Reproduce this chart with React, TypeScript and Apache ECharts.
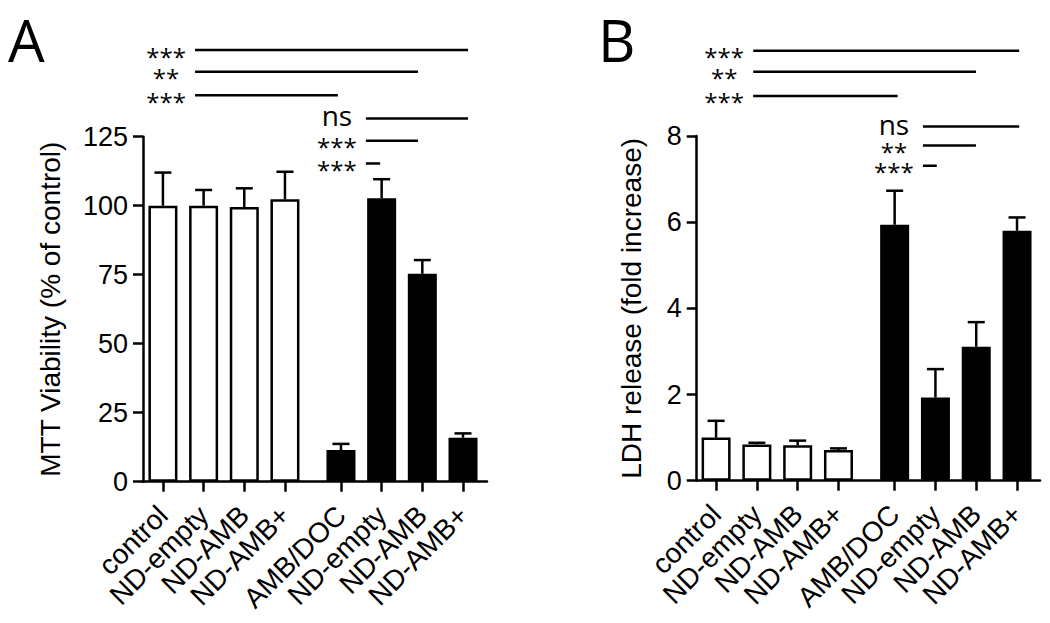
import React, { useEffect, useRef } from "react";
import * as echarts from "echarts";

// ---------- data ----------
const categories = ["control", "ND-empty", "ND-AMB", "ND-AMB+", "AMB/DOC", "ND-empty", "ND-AMB", "ND-AMB+"];
const viabilityMean = [100, 100, 99.5, 102.3, 11.5, 102.7, 75.3, 15.9];
const viabilityUpper = [112, 105.7, 106.3, 112.3, 13.7, 109.6, 80.3, 17.5];
const ldhMean = [1.0, 0.84, 0.82, 0.71, 5.94, 1.93, 3.11, 5.8];
const ldhUpper = [1.39, 0.88, 0.93, 0.75, 6.73, 2.59, 3.68, 6.11];
const viabilityTicks = [0, 25, 50, 75, 100, 125];
const ldhTicks = [0, 2, 4, 6, 8];

// significance brackets: label, from (category units), to, level (y units)
const sigLabelsA = ["***", "**", "***", "ns", "***", "***"];
const sigFromA = [0.79, 0.79, 0.79, 4.99, 4.99, 4.99];
const sigToA = [7.5, 6.27, 4.3, 7.5, 6.27, 5.34];
const sigLevelA = [156.4, 148.5, 140.0, 131.6, 123.5, 115.3];

const sigLabelsB = ["***", "**", "***", "ns", "**", "***"];
const sigFromB = [0.91, 0.91, 0.91, 5.07, 5.07, 5.07];
const sigToB = [7.43, 6.37, 4.45, 7.43, 6.37, 5.41];
const sigLevelB = [9.98, 9.49, 8.93, 8.22, 7.78, 7.31];

// ---------- layout helpers ----------
const GROUP_GAP = 0.377;
const pos = (i: number) => i + (i >= 4 ? GROUP_GAP : 0);
const positions = categories.map((_, i) => pos(i));
const FONT = "'Liberation Sans', Arial, sans-serif";
const ANN_FONT = "'Open Sans', 'Noto Sans', sans-serif";
const LW = 2.5;

function labelFor(v: number) {
  const idx = positions.findIndex((p) => Math.abs(p - v) < 1e-6);
  return idx >= 0 ? categories[idx] : "";
}

function panel(gridIndex: number, means: number[], uppers: number[], labels: string[], from: number[], to: number[], level: number[]) {
  const bars = {
    type: "bar",
    xAxisIndex: gridIndex,
    yAxisIndex: gridIndex,
    barWidth: 29,
    data: means.map((m, i) => ({
      value: [positions[i], m],
      itemStyle: { color: i >= 4 ? "#000" : "#fff", borderColor: "#000", borderWidth: LW },
    })),
    z: 2,
  };
  const errors = {
    type: "custom",
    xAxisIndex: gridIndex,
    yAxisIndex: gridIndex,
    clip: false,
    z: 3,
    encode: { x: 0, y: [1, 2] },
    data: means.map((m, i) => [positions[i], m, uppers[i]]),
    renderItem: (params: any, api: any) => {
      const x = api.value(0);
      const pm = api.coord([x, api.value(1)]);
      const pu = api.coord([x, api.value(2)]);
      const st = { stroke: "#000", lineWidth: LW };
      return {
        type: "group",
        children: [
          { type: "line", shape: { x1: pm[0], y1: pm[1], x2: pu[0], y2: pu[1] }, style: st },
          { type: "line", shape: { x1: pu[0] - 8.5, y1: pu[1], x2: pu[0] + 8.5, y2: pu[1] }, style: st },
        ],
      };
    },
  };
  const sig = {
    type: "custom",
    xAxisIndex: gridIndex,
    yAxisIndex: gridIndex,
    clip: false,
    z: 3,
    encode: { x: [0, 1], y: 2 },
    data: from.map((f, i) => [f, to[i], level[i]]),
    renderItem: (params: any, api: any) => {
      const p1 = api.coord([api.value(0), api.value(2)]);
      const p2 = api.coord([api.value(1), api.value(2)]);
      const txt = labels[params.dataIndex];
      const isNs = txt === "ns";
      return {
        type: "group",
        children: [
          { type: "line", shape: { x1: p1[0], y1: p1[1], x2: p2[0], y2: p2[1] }, style: { stroke: "#000", lineWidth: LW } },
          {
            type: "text",
            x: p1[0] - 29,
            y: p1[1] + (isNs ? -3 : 6),
            style: {
              text: txt,
              fill: "#000",
              font: isNs ? `28px ${ANN_FONT}` : `24px ${ANN_FONT}`,
              lineHeight: 18,
              align: "center",
              verticalAlign: "middle",
            },
          },
        ],
      };
    },
  };
  return [bars, errors, sig];
}

function makeX(gridIndex: number, min: number, max: number) {
  return {
    type: "value",
    gridIndex,
    min,
    max,
    splitLine: { show: false },
    axisLine: { show: true, onZero: false, lineStyle: { color: "#000", width: LW } },
    axisTick: { show: true, length: 10, lineStyle: { color: "#000", width: LW }, customValues: positions },
    axisLabel: {
      show: true,
      customValues: positions,
      formatter: (v: number) => labelFor(v),
      rotate: 45,
      margin: 29,
      color: "#000",
      fontSize: 28,
      fontFamily: FONT,
    },
  };
}

function makeY(gridIndex: number, ticks: number[], name: string, nameGap: number) {
  return {
    type: "value",
    gridIndex,
    min: ticks[0],
    max: ticks[ticks.length - 1],
    interval: ticks[1] - ticks[0],
    name,
    nameLocation: "middle",
    nameRotate: 90,
    nameGap,
    nameTextStyle: { color: "#000", fontSize: 28, fontFamily: FONT },
    splitLine: { show: false },
    axisLine: { show: true, onZero: false, lineStyle: { color: "#000", width: LW } },
    axisTick: { show: true, length: 10, lineStyle: { color: "#000", width: LW } },
    axisLabel: { color: "#000", fontSize: 27, fontFamily: FONT, margin: 15 },
  };
}

export default function App() {
  const ref = useRef<HTMLDivElement>(null);
  useEffect(() => {
    if (!ref.current) return;
    const chart = echarts.init(ref.current, undefined, { renderer: "svg" });
    chart.setOption({
      animation: false,
      backgroundColor: "#fff",
      grid: [
        { left: 143, top: 136.7, width: 344, height: 345 },
        { left: 696.7, top: 136, width: 343.3, height: 344.7 },
      ],
      xAxis: [makeX(0, -0.49, 7.967), makeX(1, -0.475, 7.94)],
      yAxis: [
        makeY(0, viabilityTicks, "MTT Viability (% of control)", 79),
        makeY(1, ldhTicks, "LDH release (fold increase)", 51),
      ],
      graphic: [
        { type: "text", left: 8, top: 10, style: { text: "A", fill: "#000", font: `58px ${ANN_FONT}` } },
        { type: "text", left: 598, top: 10, style: { text: "B", fill: "#000", font: `58px ${ANN_FONT}` } },
      ],
      series: [
        ...panel(0, viabilityMean, viabilityUpper, sigLabelsA, sigFromA, sigToA, sigLevelA),
        ...panel(1, ldhMean, ldhUpper, sigLabelsB, sigFromB, sigToB, sigLevelB),
      ],
    });
    return () => chart.dispose();
  }, []);
  return <div ref={ref} style={{ position: "fixed", left: 0, top: 0, width: 1050, height: 623, background: "#fff" }} />;
}
